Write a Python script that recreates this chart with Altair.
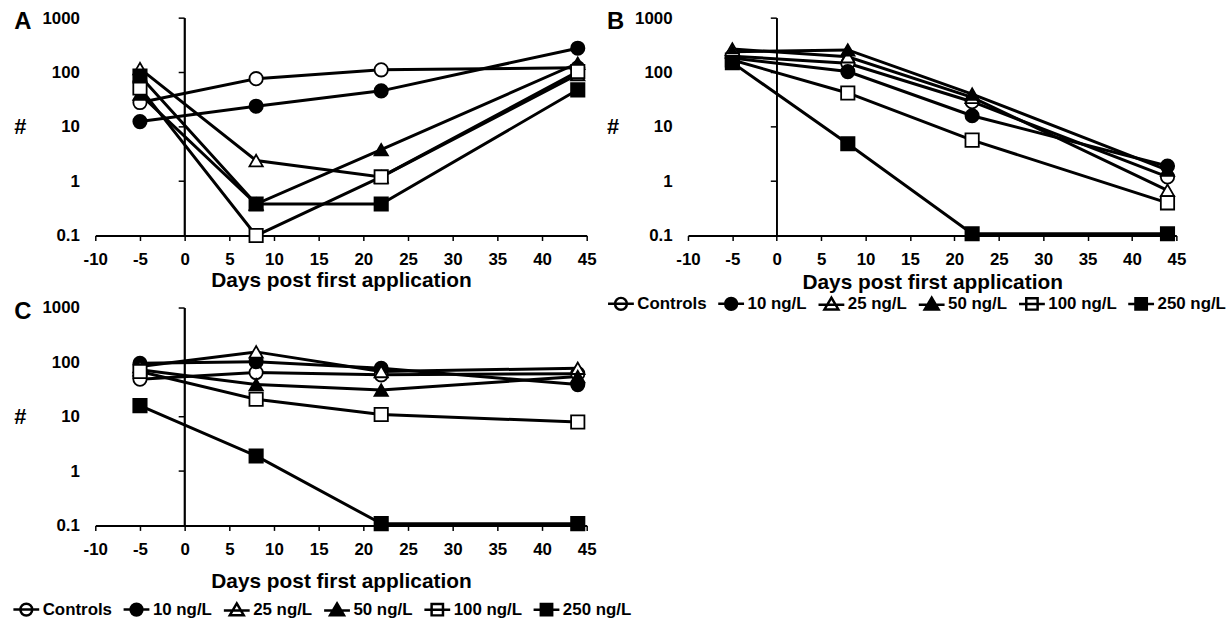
import altair as alt
import pandas as pd

# ---------------- data ----------------
days = [-5, 8, 22, 44]
series = ["Controls", "10 ng/L", "25 ng/L", "50 ng/L", "100 ng/L", "250 ng/L"]
marker_shapes = ["circle", "circle", "triangle-up", "triangle-up", "square", "square"]
marker_fills = ["white", "black", "white", "black", "white", "black"]
legend_shapes = [
    "M-1,0L1,0M-0.46,0A0.46,0.46,0,1,1,0.46,0A0.46,0.46,0,1,1,-0.46,0Z",
    "M-1,0L1,0M-0.46,0A0.46,0.46,0,1,1,0.46,0A0.46,0.46,0,1,1,-0.46,0Z",
    "M-1,0.05L1,0.05M0,-0.5L0.54,0.42L-0.54,0.42Z",
    "M-1,0.05L1,0.05M0,-0.5L0.54,0.42L-0.54,0.42Z",
    "M-1,0L1,0M-0.44,-0.44L0.44,-0.44L0.44,0.44L-0.44,0.44Z",
    "M-1,0L1,0M-0.44,-0.44L0.44,-0.44L0.44,0.44L-0.44,0.44Z",
]
x_ticks = [-10, -5, 0, 5, 10, 15, 20, 25, 30, 35, 40, 45]
y_ticks = [0.1, 1, 10, 100, 1000]
zero_line_ticks = [1, 10, 100, 1000]

# Panel A
a_controls = [28, 77, 112, 122]
a_10 = [12.5, 24, 46, 280]
a_25 = [118, 2.4, 1.2, 92]
a_50 = [40, 0.38, 3.8, 148]
a_100 = [52, 0.1, 1.2, 104]
a_250 = [86, 0.38, 0.38, 48]

# Panel B
b_controls = [200, 148, 29, 1.2]
b_10 = [185, 104, 16, 1.9]
b_25 = [270, 195, 35, 0.68]
b_50 = [240, 260, 40, 1.6]
b_100 = [170, 42, 5.7, 0.4]
b_250 = [152, 4.9, 0.108, 0.108]

# Panel C
c_controls = [49, 65, 59, 62]
c_10 = [96, 103, 78, 39]
c_25 = [84, 156, 68, 78]
c_50 = [73, 39, 31, 55]
c_100 = [68, 21, 11, 8]
c_250 = [16, 1.9, 0.108, 0.108]

FONT = "Liberation Sans"
H = 219


def rows(lists):
    out = []
    for name, vals in zip(series, lists):
        for d, v in zip(days, vals):
            out.append({"series": name, "day": d, "value": v})
    return pd.DataFrame(out)


def panel(letter, df, width, title_pad, legend_xy=None):
    xs = alt.Scale(domain=[-10, 45], nice=False, zero=False)
    ys = alt.Scale(type="log", domain=[0.1, 1000], nice=False)
    x_axis = alt.Axis(
        values=x_ticks, labelExpr="'' + datum.value",
        title="Days post first application", grid=False,
        labelFont=FONT, labelFontSize=17, labelFontWeight="bold", labelColor="black",
        labelFlush=False, labelOverlap=False, labelPadding=11,
        domainColor="black", domainWidth=2, tickColor="black", tickWidth=1.5, tickSize=5,
        titleFont=FONT, titleFontSize=21, titleFontWeight="bold", titleColor="black",
        titlePadding=title_pad,
    )
    y_axis = alt.Axis(
        values=y_ticks, format="~g", grid=False, domain=False, ticks=False, tickSize=0,
        labelFont=FONT, labelFontSize=17, labelFontWeight="bold", labelColor="black",
        labelFlush=False, labelOverlap=False, labelPadding=16,
        title="#", titleAngle=0, titleX=-76, titleY=H / 2, titleAlign="center",
        titleBaseline="middle", titleFont=FONT, titleFontSize=22, titleFontWeight="bold",
        titleColor="black",
    )
    X = alt.X("day:Q", scale=xs, axis=x_axis)
    Y = alt.Y("value:Q", scale=ys, axis=y_axis)
    base = alt.Chart(df)
    lines = base.mark_line(color="black", strokeWidth=3).encode(x=X, y=Y, detail="series:N")
    pts = base.mark_point(filled=True, size=180, stroke="black", strokeWidth=1.8, opacity=1).encode(
        x=X, y=Y,
        shape=alt.Shape("series:N", scale=alt.Scale(domain=series, range=marker_shapes), legend=None),
        fill=alt.Fill("series:N", scale=alt.Scale(domain=series, range=marker_fills), legend=None),
    )
    zero_df = pd.DataFrame({"day": [0] * len(zero_line_ticks), "value": zero_line_ticks})
    vline = alt.Chart(zero_df).mark_rule(color="black", strokeWidth=1.5).encode(x=X)
    vticks = alt.Chart(zero_df).mark_tick(
        orient="horizontal", size=6, thickness=1.5, color="black", xOffset=-3, opacity=1
    ).encode(x=X, y=Y)
    lab = alt.Chart(pd.DataFrame({"label": [letter]})).mark_text(
        font=FONT, fontSize=24, fontWeight="bold", align="center", baseline="middle", color="black"
    ).encode(text="label:N", x=alt.value(-73), y=alt.value(4))

    layers = [lines, vline, vticks, pts, lab]
    if legend_xy is not None:
        leg = alt.Legend(
            orient="none", legendX=legend_xy[0], legendY=legend_xy[1], direction="horizontal",
            title=None, padding=0, labelFont=FONT, labelFontSize=17, labelFontWeight="bold",
            labelColor="black", labelOffset=2, columnPadding=6, labelLimit=300,
            symbolSize=676, symbolStrokeWidth=2.5, symbolStrokeColor="black", symbolOpacity=1,
        )
        legend_layer = base.transform_filter("false").mark_point(
            filled=True, size=676, strokeWidth=2.5, opacity=1
        ).encode(
            x=X, y=Y,
            shape=alt.Shape("series:N", scale=alt.Scale(domain=series, range=legend_shapes), legend=leg),
            fill=alt.Fill("series:N", scale=alt.Scale(domain=series, range=marker_fills), legend=leg),
            stroke=alt.Stroke("series:N", scale=alt.Scale(domain=series, range=["black"] * 6), legend=leg),
        )
        layers.append(legend_layer)
    return alt.layer(*layers).resolve_scale(
        shape="independent", fill="independent", stroke="independent"
    ).properties(width=width, height=H)


panel_a = panel("A", rows([a_controls, a_10, a_25, a_50, a_100, a_250]), 495, 2)
panel_b = panel("B", rows([b_controls, b_10, b_25, b_50, b_100, b_250]), 492, 4, (-82, 273))
panel_c = panel("C", rows([c_controls, c_10, c_25, c_50, c_100, c_250]), 495, 14, (-84, 289))

chart = alt.concat(
    panel_a, panel_b, panel_c, columns=2, bounds="flush",
    spacing={"row": 73, "column": 102},
).resolve_scale(shape="independent", fill="independent", stroke="independent").configure_view(
    strokeWidth=0
).properties(
    padding={"left": 12, "top": 7, "right": 2, "bottom": 0}, background="white"
)

chart.save("out.html", embed_options={"renderer": "svg", "actions": False})
